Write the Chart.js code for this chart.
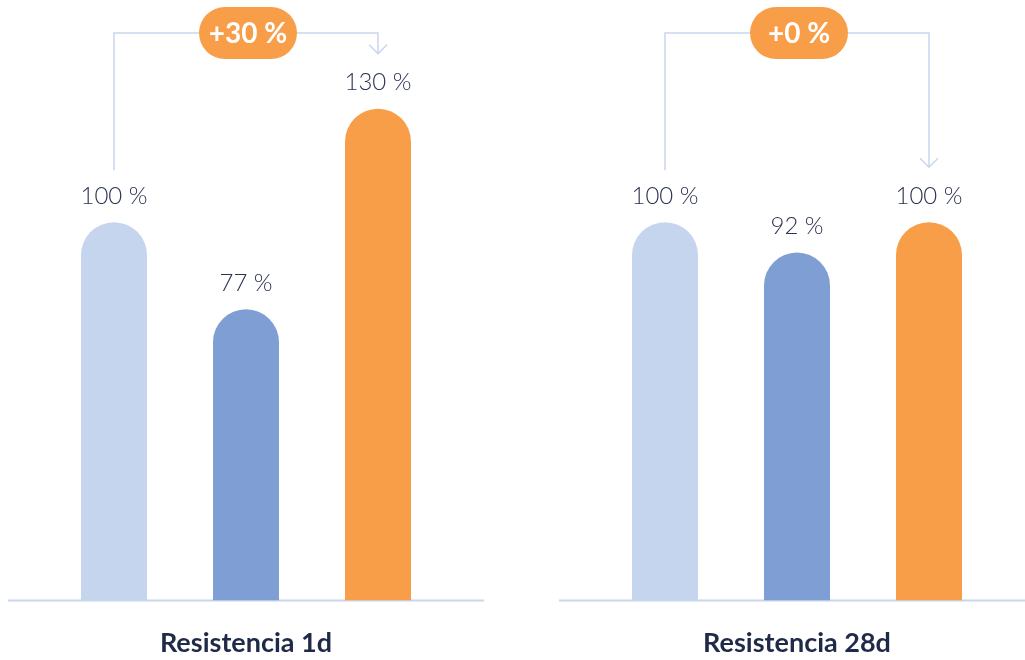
<!DOCTYPE html>
<html>
<head>
<meta charset="utf-8">
<script src="https://cdn.jsdelivr.net/npm/chart.js@4.4.1/dist/chart.umd.min.js"></script>
<style>
  html, body { margin: 0; padding: 0; background: #fff; overflow: hidden; width: 1025px; height: 660px; }
  #wrap { position: relative; width: 1025px; height: 660px; }
  canvas { position: absolute; top: 0; }
  #chart1d { left: 0; }
  #chart28d { left: 551px; }
</style>
</head>
<body>
<div id="wrap">
  <canvas id="chart1d" width="500" height="660"></canvas>
  <canvas id="chart28d" width="500" height="660"></canvas>
</div>
<script>
// datos
const barNames = ["Referencia", "Muestra A", "Muestra B"];
const groupTitles = ["Resistencia 1d", "Resistencia 28d"];
const values1d = [100, 77, 130];
const values28d = [100, 92, 100];
const barColors = ["#c6d5ee", "#7f9fd4", "#f89e48"];

const lineColor = "#c9d6ec";
const pillColor = "#f89e48";

// linea base, etiquetas de valor y el corchete con la diferencia
const decorPlugin = {
  id: "decor",
  beforeDatasetsDraw(chart) {
    const ctx = chart.ctx;
    const area = chart.chartArea;
    ctx.save();
    ctx.strokeStyle = lineColor;
    ctx.lineWidth = 2;
    ctx.beginPath();
    ctx.moveTo(area.left - 40, area.bottom);
    ctx.lineTo(area.right + 40, area.bottom);
    ctx.stroke();
    ctx.restore();
  },
  afterDatasetsDraw(chart) {
    const ctx = chart.ctx;
    const meta = chart.getDatasetMeta(0);
    const values = chart.data.datasets[0].data;
    ctx.save();

    // etiquetas
    ctx.font = "300 24px Lato";
    ctx.fillStyle = "#2b3350";
    ctx.textAlign = "center";
    ctx.textBaseline = "middle";
    meta.data.forEach((bar, i) => {
      ctx.fillText(values[i] + " %", bar.x, bar.y - 26);
    });

    // corchete
    const first = meta.data[0];
    const last = meta.data[meta.data.length - 1];
    const topY = 33;
    const startY = first.y - 52;
    const endY = last.y - 55;
    ctx.strokeStyle = lineColor;
    ctx.lineWidth = 1.5;
    ctx.beginPath();
    ctx.moveTo(first.x, startY);
    ctx.lineTo(first.x, topY);
    ctx.lineTo(last.x, topY);
    ctx.lineTo(last.x, endY);
    ctx.stroke();
    ctx.beginPath();
    ctx.moveTo(last.x - 9, endY - 9);
    ctx.lineTo(last.x, endY);
    ctx.lineTo(last.x + 9, endY - 9);
    ctx.stroke();

    // pastilla
    const first_v = values[0];
    const last_v = values[values.length - 1];
    const change = Math.round((last_v - first_v) / first_v * 100);
    const cx = (first.x + last.x) / 2 + 2;
    ctx.fillStyle = pillColor;
    ctx.beginPath();
    ctx.roundRect(cx - 49, topY - 26, 98, 52, 26);
    ctx.fill();
    ctx.fillStyle = "#ffffff";
    ctx.font = "bold 28px Lato";
    ctx.fillText((change >= 0 ? "+" : "") + change + " %", cx, topY + 1);

    ctx.restore();
  }
};

function makeChart(id, title, values) {
  return new Chart(document.getElementById(id), {
    type: "bar",
    data: {
      labels: barNames,
      datasets: [
        {
          data: values,
          backgroundColor: barColors,
          borderWidth: 0,
          borderSkipped: "bottom",
          borderRadius: { topLeft: 33, topRight: 33, bottomLeft: 0, bottomRight: 0 },
          barPercentage: 0.5,
          categoryPercentage: 1,
        },
      ],
    },
    options: {
      responsive: false,
      animation: false,
      devicePixelRatio: 1,
      layout: { padding: { left: 48, right: 56, top: 33, bottom: 1 } },
      plugins: {
        legend: { display: false },
        tooltip: { enabled: false },
      },
      scales: {
        x: {
          grid: { display: false },
          border: { display: false },
          ticks: { display: false },
          title: {
            display: true,
            text: title,
            color: "#1f2a48",
            font: { family: "Lato", weight: "bold", size: 27 },
            padding: { top: 18, bottom: 0 },
          },
        },
        y: {
          display: false,
          min: 0,
          max: 150,
        },
      },
    },
    plugins: [decorPlugin],
  });
}

makeChart("chart1d", groupTitles[0], values1d);
makeChart("chart28d", groupTitles[1], values28d);
</script>
</body>
</html>
